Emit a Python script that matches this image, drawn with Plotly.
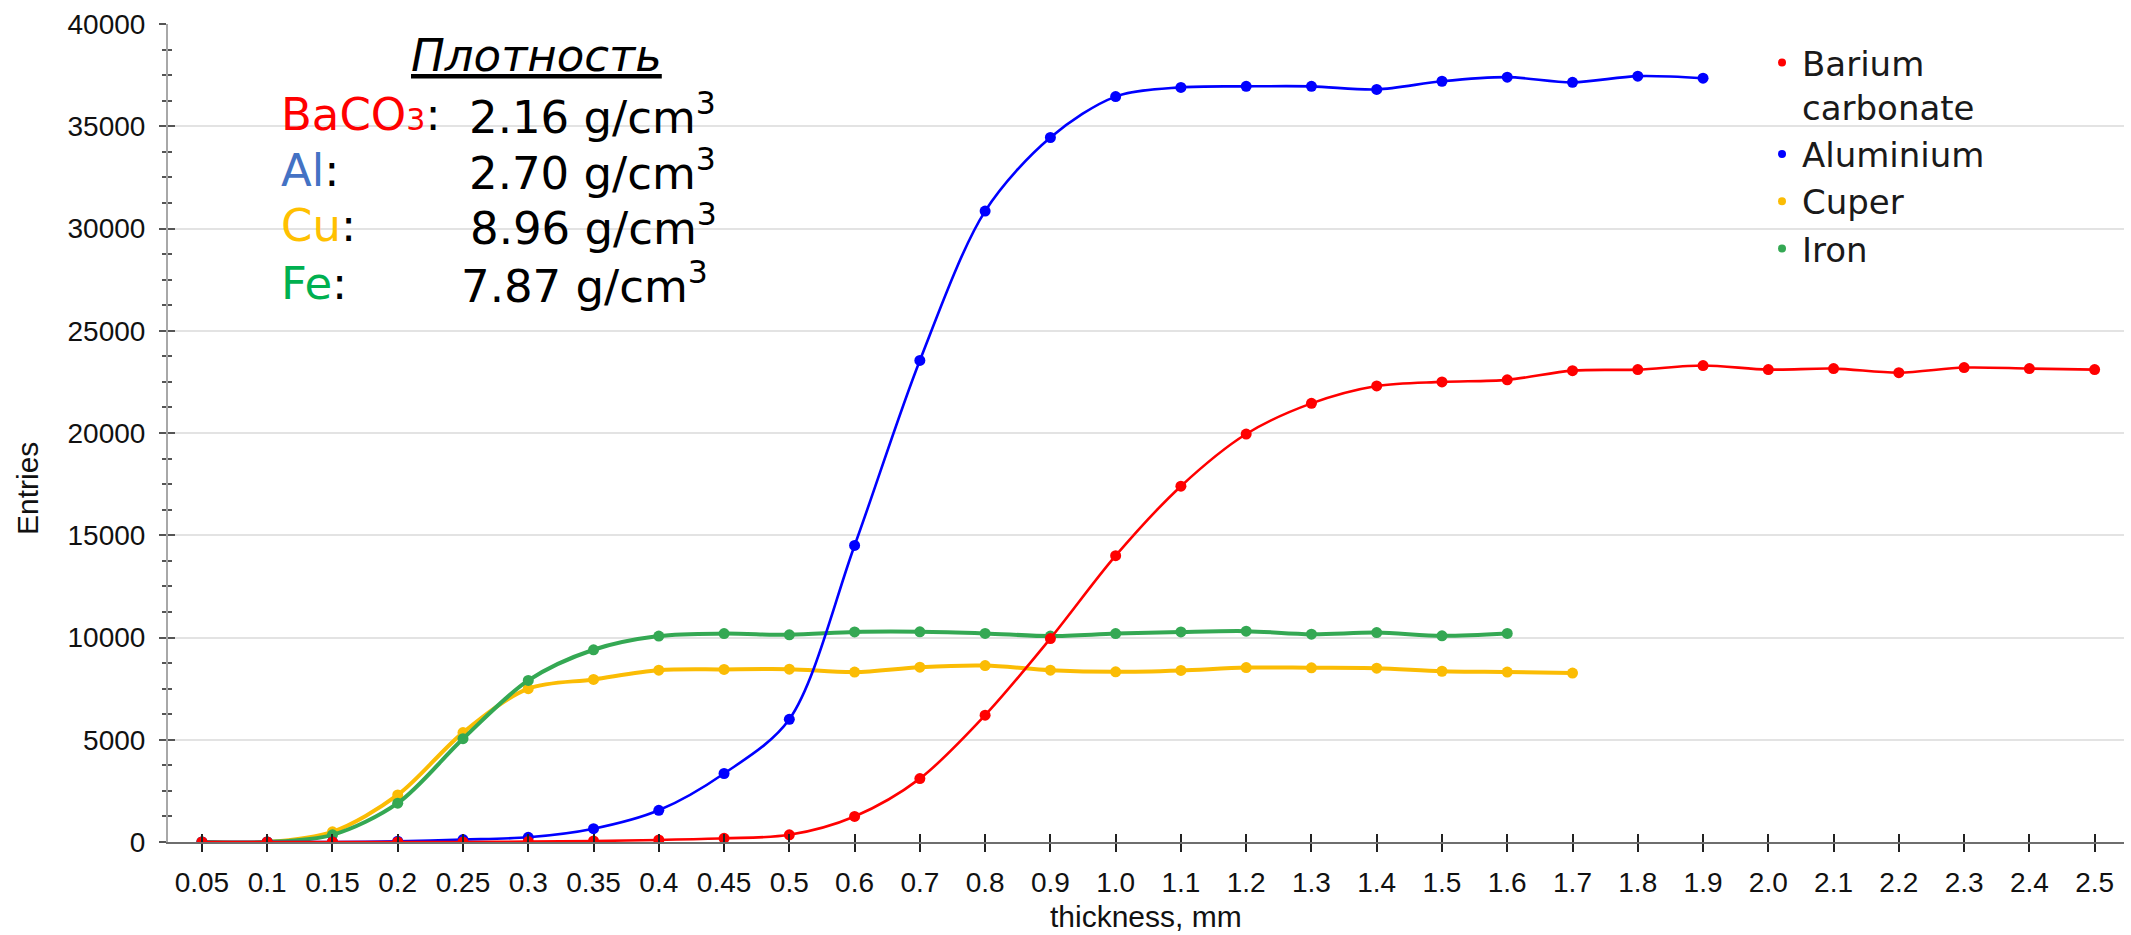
import plotly.graph_objects as go

# ---------------- data ----------------
thickness = ["0.05", "0.1", "0.15", "0.2", "0.25", "0.3", "0.35", "0.4", "0.45", "0.5",
             "0.6", "0.7", "0.8", "0.9", "1.0", "1.1", "1.2", "1.3", "1.4", "1.5",
             "1.6", "1.7", "1.8", "1.9", "2.0", "2.1", "2.2", "2.3", "2.4", "2.5"]

barium = [0, 0, 0, 0, 0, 20, 50, 100, 180, 350,
          1250, 3100, 6200, 9950, 14000, 17400, 19950, 21450, 22300, 22500,
          22600, 23050, 23100, 23300, 23100, 23150, 22950, 23200, 23150, 23100]

aluminium = [0, 0, 0, 40, 120, 230, 650, 1550, 3350, 6000,
             14500, 23550, 30850, 34450, 36450, 36900, 36950, 36950, 36800, 37200,
             37400, 37150, 37450, 37350]

cuper = [0, 0, 500, 2300, 5350, 7500, 7950, 8400, 8440, 8450,
         8310, 8550, 8630, 8400, 8320, 8390, 8530, 8520, 8500, 8350,
         8310, 8260]

iron = [0, 0, 350, 1900, 5050, 7900, 9400, 10070, 10190, 10130,
        10270, 10280, 10200, 10070, 10190, 10270, 10310, 10160, 10240, 10080,
        10200]

series_names = ["Barium<br>carbonate", "Aluminium", "Cuper", "Iron"]

density_labels = ["BaCO3", "Al", "Cu", "Fe"]
density_values = [2.16, 2.70, 8.96, 7.87]
density_title = "Плотность"

y_ticks = [0, 5000, 10000, 15000, 20000, 25000, 30000, 35000, 40000]

# ---------------- styling ----------------
W, H = 2131, 935
ML, MR, MT, MB = 168, 7, 24, 93
PW, PH = W - ML - MR, H - MT - MB

def px(x):
    return (x - ML) / PW

def py(y):
    return (H - MB - y) / PH

line_colors = ["#FF0000", "#0000FF", "#FBBC04", "#34A853"]
label_colors = ["#FF0000", "#4472C4", "#FFC000", "#00B050"]
line_widths = [2.6, 2.6, 4, 4]

series = [barium, aluminium, cuper, iron]

fig = go.Figure()

draw_order = [2, 3, 1, 0]
for i in draw_order:
    vals = series[i]
    fig.add_trace(go.Scatter(
        x=thickness[:len(vals)], y=vals,
        mode="lines+markers",
        line=dict(color=line_colors[i], width=line_widths[i], shape="spline", smoothing=0.9),
        marker=dict(color=line_colors[i], size=11),
        showlegend=False, hoverinfo="x+y",
    ))

# legend entries (dot only)
for i, name in enumerate(series_names):
    fig.add_trace(go.Scatter(
        x=[None], y=[None], mode="markers", name=name,
        marker=dict(color=line_colors[i], size=8),
        legendrank=i + 1,
    ))

# invisible trace to carry overlay axes (inner halves of crossing ticks)
fig.add_trace(go.Scatter(x=thickness, y=barium, mode="none", hoverinfo="skip",
                         showlegend=False, xaxis="x2", yaxis="y2"))

xr = [-0.52, len(thickness) - 0.55]
tickfont = dict(family="Liberation Sans, Arial, sans-serif", size=28, color="#111")

fig.update_layout(
    width=W, height=H,
    margin=dict(l=ML, r=MR, t=MT, b=MB, pad=0),
    paper_bgcolor="white", plot_bgcolor="white",
    font=dict(family="DejaVu Sans, sans-serif", color="#111"),
    xaxis=dict(
        type="category", categoryorder="array", categoryarray=thickness,
        range=xr, showgrid=False, zeroline=False,
        showline=True, linecolor="#6e6e6e", linewidth=2,
        ticks="outside", ticklen=8, tickwidth=2, tickcolor="#222",
        tickfont=tickfont, ticklabelstandoff=6,
    ),
    xaxis2=dict(
        type="category", categoryorder="array", categoryarray=thickness,
        range=xr, overlaying="x", anchor="y2", side="bottom",
        showgrid=False, zeroline=False, showline=False,
        ticks="inside", ticklen=8, tickwidth=2, tickcolor="#222",
        showticklabels=False,
    ),
    yaxis=dict(
        range=[0, 40000], tickvals=y_ticks, ticktext=[str(v) for v in y_ticks],
        showgrid=True, gridcolor="#e3e3e3", gridwidth=2, zeroline=False,
        showline=True, linecolor="#a8a8a8", linewidth=2,
        ticks="outside", ticklen=7, tickwidth=2, tickcolor="#555",
        minor=dict(ticks="outside", ticklen=4, tickwidth=2, tickcolor="#555",
                   dtick=1250, showgrid=False),
        tickfont=tickfont, ticklabelstandoff=8,
    ),
    yaxis2=dict(
        range=[0, 40000], overlaying="y", anchor="x", side="left",
        tickvals=y_ticks, showgrid=False, zeroline=False, showline=False,
        ticks="inside", ticklen=7, tickwidth=2, tickcolor="#555",
        minor=dict(ticks="inside", ticklen=4, tickwidth=2, tickcolor="#555",
                   dtick=1250, showgrid=False),
        showticklabels=False,
    ),
    legend=dict(
        x=px(1762), y=py(34), xanchor="left", yanchor="top",
        font=dict(family="DejaVu Sans, sans-serif", size=34, color="#1a1a1a"),
        bgcolor="rgba(0,0,0,0)", valign="top", tracegroupgap=0,
        itemwidth=30,
    ),
    showlegend=True,
)

# axis titles
axis_font = dict(family="Liberation Sans, Arial, sans-serif", size=30, color="#111")
fig.add_annotation(x=px(1146), y=py(916), xref="paper", yref="paper",
                   text="thickness, mm", showarrow=False, font=axis_font,
                   xanchor="center", yanchor="middle")
fig.add_annotation(x=px(27), y=py(489), xref="paper", yref="paper",
                   text="Entries", showarrow=False, font=axis_font, textangle=-90,
                   xanchor="center", yanchor="middle")

# density box
dens_font = dict(family="DejaVu Sans, sans-serif", size=45, color="#000")
fig.add_annotation(x=px(536), y=py(56), xref="paper", yref="paper",
                   text=f"<i><u>{density_title}</u></i>", showarrow=False,
                   font=dens_font, xanchor="center", yanchor="middle")

row_centers = [114, 170, 225, 283]
value_left = [467, 467, 468, 459]
for i, lab in enumerate(density_labels):
    c = label_colors[i]
    if lab == "BaCO3":
        ltxt = (f"<span style='color:{c}'>BaCO</span>"
                f"<span style='color:{c};font-size:30px'>3</span>:")
    else:
        ltxt = f"<span style='color:{c}'>{lab}</span>:"
    fig.add_annotation(x=px(279), y=py(row_centers[i]), xref="paper", yref="paper",
                       text=ltxt, showarrow=False, font=dens_font,
                       xanchor="left", yanchor="middle")
    fig.add_annotation(x=px(value_left[i]), y=py(row_centers[i]), xref="paper", yref="paper",
                       text=f"{density_values[i]:.2f} g/cm<sup>3</sup>", showarrow=False,
                       font=dens_font, xanchor="left", yanchor="middle")

fig.write_html("out.html", config={"displayModeBar": False},
               post_script="document.body.style.margin='0';document.body.style.overflow='hidden';")
